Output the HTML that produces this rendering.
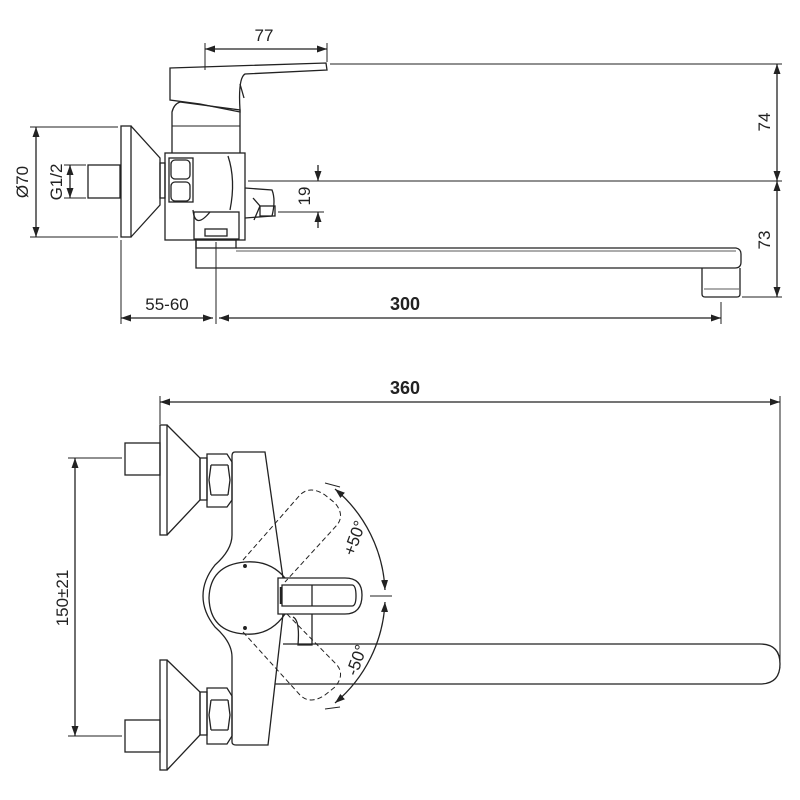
<!DOCTYPE html>
<html><head><meta charset="utf-8"><style>
html,body{margin:0;padding:0;background:#fff;}
svg{display:block}
text{font-family:"Liberation Sans",Arial,sans-serif;fill:#222}
</style></head><body>
<svg width="800" height="800" viewBox="0 0 800 800" xmlns="http://www.w3.org/2000/svg">
<defs>
<marker id="a" viewBox="0 0 10 10" refX="10" refY="5" markerWidth="10" markerHeight="10" markerUnits="userSpaceOnUse" orient="auto-start-reverse"><path d="M0,1.5 L10,5 L0,8.5Z" fill="#222"/></marker>
</defs>
<g stroke="#222" stroke-width="1.3" fill="none">
<!-- ===== TOP VIEW ===== -->
<line x1="205" y1="49" x2="327" y2="49" marker-start="url(#a)" marker-end="url(#a)"/>
<line x1="205" y1="43" x2="205" y2="70" stroke-width="1"/>
<line x1="327" y1="43" x2="327" y2="62" stroke-width="1"/>
<path d="M170,68 L326,63 L327,70 L245,74 Q238,78 240,110 L240,112 L200,104 L170,100 Z"/>
<path d="M240,84 L244,98"/>
<line x1="330" y1="64" x2="782" y2="64" stroke-width="1"/>
<path d="M172,153 L172,112 Q174,104 180,102 L240,110 L240,153"/>
<line x1="172" y1="126" x2="240" y2="126" stroke-width="1"/>
<rect x="165" y="153" width="80" height="87"/>
<rect x="169" y="158" width="24" height="44"/>
<rect x="171" y="160" width="19" height="19" rx="4"/>
<rect x="171" y="182" width="19" height="19" rx="4"/>
<path d="M228,156 Q236,180 230,210"/>
<path d="M193,210 Q195,230 210,212"/>
<rect x="194" y="212" width="45" height="27"/>
<rect x="205" y="229" width="22" height="7"/>
<rect x="160" y="163" width="5" height="35"/>
<path d="M245,188 L272,190 Q276,200 272,216 L245,218"/>
<rect x="260" y="206" width="15" height="10"/>
<path d="M253,198 L260,206 L254,220"/>
<line x1="248" y1="181" x2="782" y2="181" stroke-width="1"/>
<line x1="278" y1="212" x2="324" y2="212" stroke-width="1"/>
<line x1="318" y1="165" x2="318" y2="181" marker-end="url(#a)"/>
<line x1="318" y1="228" x2="318" y2="212" marker-end="url(#a)"/>
<rect x="121" y="126" width="10" height="111"/>
<path d="M131,126 L160,158 L160,205 L131,237"/>
<rect x="88" y="165" width="32" height="33"/>
<line x1="30" y1="127" x2="118" y2="127" stroke-width="1"/>
<line x1="30" y1="237" x2="118" y2="237" stroke-width="1"/>
<line x1="36" y1="127" x2="36" y2="237" marker-start="url(#a)" marker-end="url(#a)"/>
<line x1="64" y1="165" x2="86" y2="165" stroke-width="1"/>
<line x1="64" y1="198" x2="86" y2="198" stroke-width="1"/>
<line x1="70" y1="165" x2="70" y2="198" marker-start="url(#a)" marker-end="url(#a)"/>
<path d="M196,240 L196,268 L702,268"/>
<rect x="196" y="240" width="40" height="8"/>
<path d="M236,248 L736,248 Q741,249 741,254 L741,262 Q741,268 735,268 L702,268"/>
<line x1="236" y1="251" x2="736" y2="251" stroke-width="0.8"/>
<path d="M702,268 L702,294 Q702,297 705,297 L737,297 Q740,297 740,294 L740,268"/>
<line x1="704" y1="289" x2="739" y2="289" stroke-width="0.8"/>
<line x1="742" y1="297" x2="782" y2="297" stroke-width="1"/>
<line x1="777" y1="64" x2="777" y2="181" marker-start="url(#a)" marker-end="url(#a)"/>
<line x1="777" y1="181" x2="777" y2="297" marker-start="url(#a)" marker-end="url(#a)"/>
<line x1="121" y1="240" x2="121" y2="324" stroke-width="1"/>
<line x1="216" y1="242" x2="216" y2="324" stroke-width="1"/>
<line x1="721" y1="302" x2="721" y2="324" stroke-width="1"/>
<line x1="121" y1="318" x2="213" y2="318" marker-start="url(#a)" marker-end="url(#a)"/>
<line x1="219" y1="318" x2="721" y2="318" marker-start="url(#a)" marker-end="url(#a)"/>

<!-- ===== BOTTOM VIEW ===== -->
<line x1="160" y1="402" x2="780" y2="402" marker-start="url(#a)" marker-end="url(#a)"/>
<line x1="160" y1="396" x2="160" y2="424" stroke-width="1"/>
<line x1="780" y1="396" x2="780" y2="668" stroke-width="1"/>
<rect x="160" y="425" width="7" height="110"/>
<path d="M167,425 L200,458 L200,500 L167,535"/>
<rect x="125" y="443" width="35" height="32"/>
<rect x="200" y="458" width="7" height="42"/>
<path d="M207,454 L227,454 L232,462 L232,500 L227,507 L207,507 Z"/>
<path d="M211,465 L228,465 M211,495 L228,495 M211,465 L209,480 L211,495 M228,465 L230,480 L228,495"/>
<rect x="160" y="660" width="7" height="110"/>
<path d="M167,660 L200,692 L200,735 L167,770"/>
<rect x="125" y="720" width="35" height="32"/>
<rect x="200" y="692" width="7" height="43"/>
<path d="M207,688 L227,688 L232,696 L232,736 L227,744 L207,744 Z"/>
<path d="M211,700 L228,700 M211,730 L228,730 M211,700 L209,715 L211,730 M228,700 L230,715 L228,730"/>
<line x1="68" y1="458" x2="122" y2="458" stroke-width="1"/>
<line x1="68" y1="736" x2="122" y2="736" stroke-width="1"/>
<line x1="75" y1="458" x2="75" y2="736" marker-start="url(#a)" marker-end="url(#a)"/>
<!-- body -->
<path d="M283,578 L265,452 L235,452 Q232,452 232,456 L232,535 Q232,550 215,565 Q203,580 203,596 Q203,612 215,627 Q232,642 232,657 L232,742 Q232,745 236,745 L268,745 L283,614"/>
<!-- hub -->
<path d="M285,578 Q270,560 245,562 Q210,565 209,598 Q210,632 245,634 Q270,636 285,614"/>
<circle cx="245" cy="566" r="1.3" fill="#222"/>
<circle cx="245" cy="628" r="1.3" fill="#222"/>
<!-- lever -->
<path d="M278,578 L345,578 Q362,578 362,595 Q362,614 345,614 L278,614 Z"/>
<path d="M282,585 L352,585 Q356,585 356,596 Q356,606 352,606 L282,606 Z"/>
<line x1="312" y1="585" x2="312" y2="606"/>
<line x1="281" y1="587" x2="281" y2="604" stroke-width="2.5"/>
<path d="M293,617 Q300,620 298,645 L312,645 L312,614"/>
<g stroke-dasharray="5,3" stroke-width="1">
<path d="M243,560 L300,495 Q310,485 325,495 L335,503 Q345,515 337,525 L285,582"/>
<path d="M243,632 L300,695 Q310,705 325,695 L335,687 Q345,675 337,665 L285,612"/>
</g>
<path d="M335,489 A140,140 0 0 1 385,590" marker-start="url(#a)" marker-end="url(#a)"/>
<path d="M385,602 A140,140 0 0 1 335,703" marker-start="url(#a)" marker-end="url(#a)"/>
<line x1="325" y1="483" x2="340" y2="487" stroke-width="1"/>
<line x1="325" y1="709" x2="340" y2="707" stroke-width="1"/>
<line x1="370" y1="596" x2="392" y2="596" stroke-width="1"/>
<path d="M283,644 L760,644 Q780,644 780,664 Q780,684 760,684 L275,684"/>
</g>
<g font-size="17">
<text x="264" y="41" text-anchor="middle">77</text>
<text x="167" y="310" text-anchor="middle">55-60</text>
<text x="405" y="310" text-anchor="middle" font-weight="bold" font-size="18">300</text>
<text x="405" y="394" text-anchor="middle" font-weight="bold" font-size="18">360</text>
<text transform="translate(28,182) rotate(-90)" text-anchor="middle">Ø70</text>
<text transform="translate(62,182) rotate(-90)" text-anchor="middle">G1/2</text>
<text transform="translate(310,196) rotate(-90)" text-anchor="middle">19</text>
<text transform="translate(770,122) rotate(-90)" text-anchor="middle">74</text>
<text transform="translate(770,240) rotate(-90)" text-anchor="middle">73</text>
<text transform="translate(68,598) rotate(-90)" text-anchor="middle">150±21</text>
<text transform="translate(360,540) rotate(-70)" text-anchor="middle">+50°</text>
<text transform="translate(362,662) rotate(-70)" text-anchor="middle">-50°</text>
</g>
</svg>
</body></html>
